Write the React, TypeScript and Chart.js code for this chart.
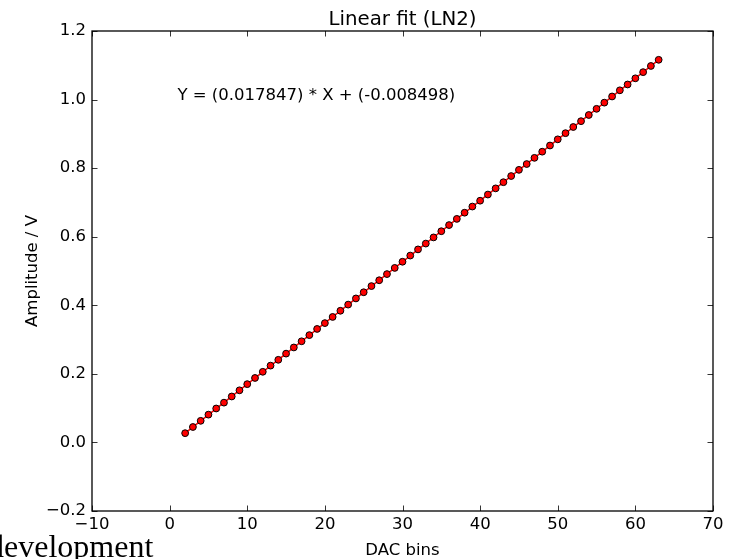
import React, { useEffect, useRef } from 'react';
import { Chart, registerables } from 'chart.js';

Chart.register(...registerables);

const TITLE = 'Linear fit (LN2)';
const X_LABEL = 'DAC bins';
const Y_LABEL = 'Amplitude / V';
const FIT_TEXT = 'Y = (0.017847) * X + (-0.008498)';
const FIT_TEXT_POS = [1, 1.0];
const PAGE_TEXT = 'development';

const dacBins = [
  2, 3, 4, 5, 6, 7, 8, 9, 10, 11, 12, 13, 14, 15, 16, 17, 18, 19, 20, 21, 22,
  23, 24, 25, 26, 27, 28, 29, 30, 31, 32, 33, 34, 35, 36, 37, 38, 39, 40, 41,
  42, 43, 44, 45, 46, 47, 48, 49, 50, 51, 52, 53, 54, 55, 56, 57, 58, 59, 60,
  61, 62, 63,
];
const amplitudes = [
  0.027, 0.045, 0.063, 0.081, 0.099, 0.116, 0.134, 0.152, 0.17, 0.188, 0.206,
  0.224, 0.241, 0.259, 0.277, 0.295, 0.313, 0.331, 0.348, 0.366, 0.384, 0.402,
  0.42, 0.438, 0.456, 0.473, 0.491, 0.509, 0.527, 0.545, 0.563, 0.58, 0.598,
  0.616, 0.634, 0.652, 0.67, 0.688, 0.705, 0.723, 0.741, 0.759, 0.777, 0.795,
  0.812, 0.83, 0.848, 0.866, 0.884, 0.902, 0.92, 0.937, 0.955, 0.973, 0.991,
  1.009, 1.027, 1.044, 1.062, 1.08, 1.098, 1.116,
];
const fitX = [2, 63];
const fitY = [0.0272, 1.1159];

const xTicks = [-10, 0, 10, 20, 30, 40, 50, 60, 70];
const yTicks = [-0.2, 0, 0.2, 0.4, 0.6, 0.8, 1.0, 1.2];

const FONT = 'DejaVu Sans';
const FS = 16.5;

const fmt = (v: number, d: number) =>
  (v < -1e-9 ? '\u2212' : '') + Math.abs(v).toFixed(d);

const decor = {
  id: 'decor',
  afterDraw(chart: any) {
    const { ctx, chartArea: a, scales } = chart;
    const xs = scales.x;
    const ys = scales.y;
    ctx.save();
    ctx.strokeStyle = '#000';
    ctx.lineWidth = 0.8;
    const L = 5.5;
    ctx.beginPath();
    xs.ticks.forEach((t: any) => {
      const px = Math.round(xs.getPixelForValue(t.value)) + 0.5;
      ctx.moveTo(px, a.bottom);
      ctx.lineTo(px, a.bottom - L);
      ctx.moveTo(px, a.top);
      ctx.lineTo(px, a.top + L);
    });
    ys.ticks.forEach((t: any) => {
      const py = Math.round(ys.getPixelForValue(t.value)) + 0.5;
      ctx.moveTo(a.left, py);
      ctx.lineTo(a.left + L, py);
      ctx.moveTo(a.right, py);
      ctx.lineTo(a.right - L, py);
    });
    ctx.stroke();
    ctx.lineWidth = 1.3;
    ctx.strokeRect(a.left, a.top, a.right - a.left, a.bottom - a.top);

    ctx.fillStyle = '#000';
    // title
    ctx.font = `${FS * 1.2}px "${FONT}"`;
    ctx.textAlign = 'center';
    ctx.textBaseline = 'alphabetic';
    ctx.fillText(TITLE, (a.left + a.right) / 2, a.top - 6.5);
    // x label
    ctx.font = `${FS}px "${FONT}"`;
    ctx.fillText(X_LABEL, (a.left + a.right) / 2, 555);
    // y label
    ctx.save();
    ctx.translate(37, (a.top + a.bottom) / 2);
    ctx.rotate(-Math.PI / 2);
    ctx.fillText(Y_LABEL, 0, 0);
    ctx.restore();
    // fit annotation
    ctx.textAlign = 'left';
    ctx.fillText(
      FIT_TEXT,
      xs.getPixelForValue(FIT_TEXT_POS[0]),
      ys.getPixelForValue(FIT_TEXT_POS[1])
    );
    ctx.restore();
  },
};

export default function App() {
  const ref = useRef<HTMLCanvasElement | null>(null);
  useEffect(() => {
    if (!ref.current) return;
    const chart = new Chart(ref.current, {
      type: 'scatter',
      data: {
        datasets: [
          {
            label: 'data',
            data: dacBins.map((x, i) => ({ x, y: amplitudes[i] })),
            pointRadius: 3.4,
            pointBackgroundColor: '#ff0000',
            pointBorderColor: '#000000',
            pointBorderWidth: 1,
            showLine: false,
            order: 0,
          },
          {
            label: 'fit',
            data: fitX.map((x, i) => ({ x, y: fitY[i] })),
            showLine: true,
            borderColor: '#ff0000',
            borderWidth: 1.5,
            pointRadius: 0,
            order: 1,
          },
        ],
      },
      options: {
        animation: false,
        responsive: false,
        layout: { padding: { top: 31, right: 16, left: 0, bottom: 0 } },
        plugins: {
          legend: { display: false },
          tooltip: { enabled: false },
          title: { display: false },
        },
        scales: {
          x: {
            type: 'linear',
            min: -10,
            max: 70,
            afterBuildTicks: (s: any) => {
              s.ticks = xTicks.map((v) => ({ value: v }));
            },
            afterFit: (s: any) => {
              s.height = 48;
            },
            grid: { display: false, drawTicks: false },
            border: { display: false },
            ticks: {
              color: '#000',
              font: { family: FONT, size: FS },
              padding: 4,
              maxRotation: 0,
              autoSkip: false,
              callback: (v: any) => fmt(Number(v), 0),
            },
          },
          y: {
            type: 'linear',
            min: -0.2,
            max: 1.2,
            afterBuildTicks: (s: any) => {
              s.ticks = yTicks.map((v) => ({ value: v }));
            },
            afterFit: (s: any) => {
              s.width = 92;
            },
            grid: { display: false, drawTicks: false },
            border: { display: false },
            ticks: {
              color: '#000',
              font: { family: FONT, size: FS },
              padding: 6,
              autoSkip: false,
              callback: (v: any) => fmt(Number(v), 1),
            },
          },
        },
      },
      plugins: [decor],
    } as any);
    return () => chart.destroy();
  }, []);

  return (
    <div
      style={{
        position: 'fixed',
        left: 0,
        top: 0,
        width: 729,
        height: 559,
        overflow: 'hidden',
        background: '#fff',
      }}
    >
      <canvas ref={ref} width={729} height={559} style={{ position: 'absolute', left: 0, top: 0 }} />
      <div
        style={{
          position: 'absolute',
          left: -12,
          top: 530,
          fontFamily: '"Liberation Serif", serif',
          fontSize: 32,
          lineHeight: '32px',
          whiteSpace: 'nowrap',
          color: '#000',
        }}
      >
        {PAGE_TEXT}
      </div>
    </div>
  );
}
